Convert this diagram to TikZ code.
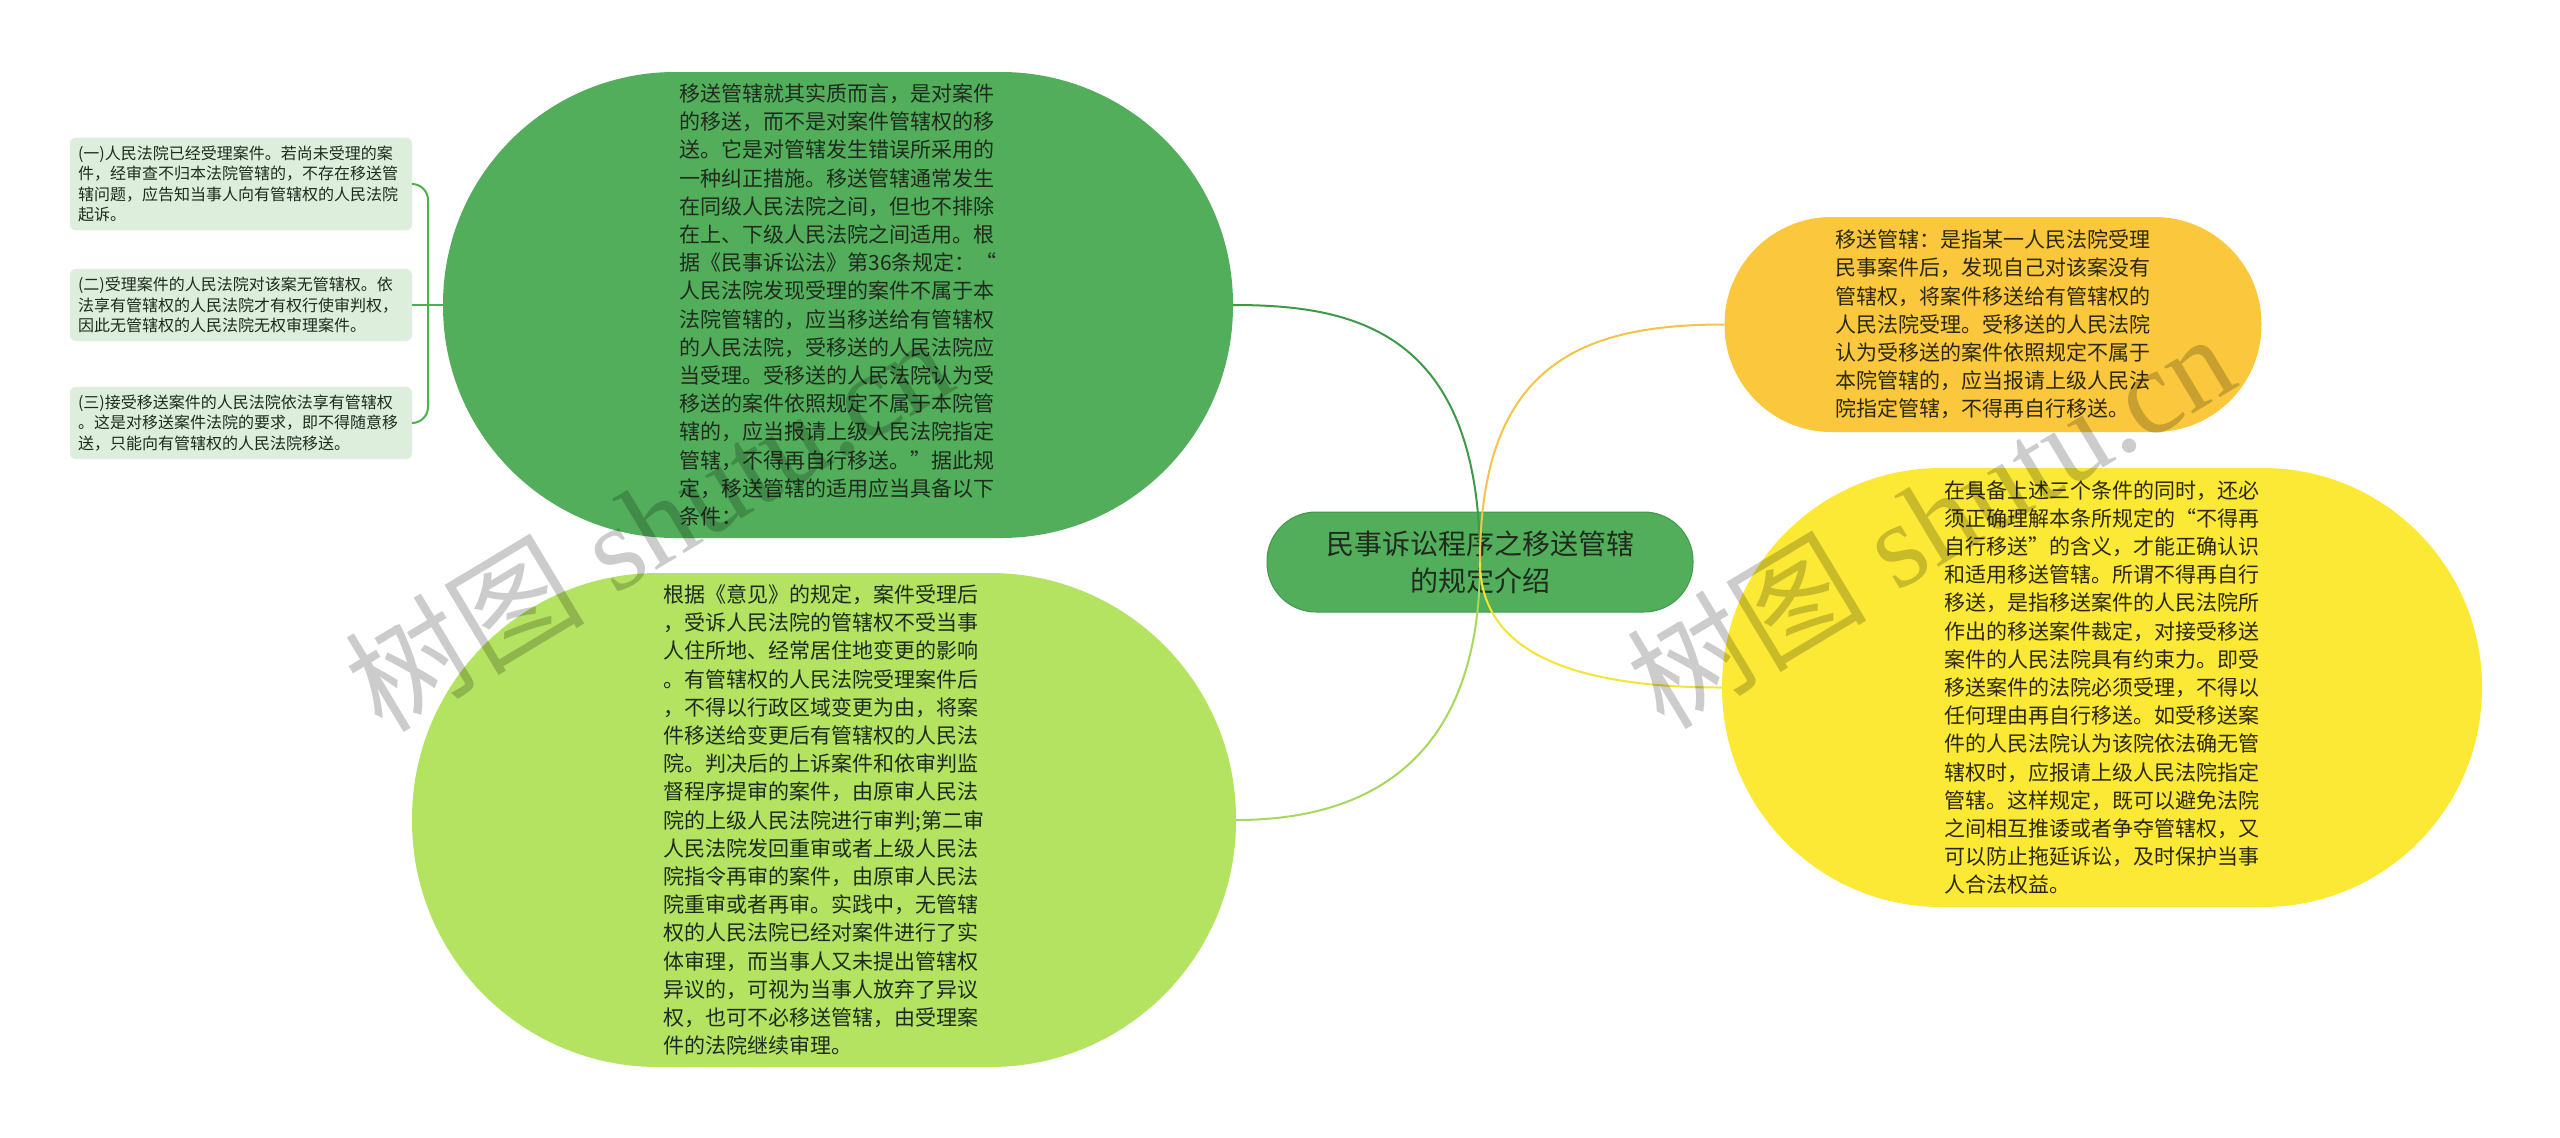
\documentclass[tikz,border=0pt]{standalone}
\usepackage{fontspec}
\setmainfont{Liberation Serif}
\newfontfamily\cjk{Noto Sans CJK SC}
\definecolor{dgfill}{HTML}{52AE5B}
\definecolor{dgline}{HTML}{3F9A48}
\definecolor{lgfill}{HTML}{B3E360}
\definecolor{orfill}{HTML}{FBC83D}
\definecolor{yefill}{HTML}{FCE935}
\definecolor{smfill}{HTML}{DDEEDC}
\definecolor{txtdark}{HTML}{1E2B1E}
\definecolor{txtwarm}{HTML}{2B2810}
\definecolor{cdg}{HTML}{3F9A48}
\definecolor{clg}{HTML}{A8D85B}
\definecolor{cor}{HTML}{F4C347}
\definecolor{cye}{HTML}{F6E435}
\definecolor{brk}{HTML}{4CAF50}
\begin{document}
\begin{tikzpicture}[x=1pt,y=-1pt,
  bigtext/.style={font=\cjk\fontsize{21pt}{28.2pt}\selectfont, align=left, text=txtdark, inner sep=0pt},
  smalltext/.style={font=\cjk\fontsize{16pt}{20.6pt}\selectfont, align=left, text=txtdark, inner sep=8pt, text width=326pt, fill=smfill, rounded corners=6pt},
  rootbox/.style={font=\cjk\fontsize{28pt}{37pt}\selectfont, align=center, text=txtdark, fill=dgfill, draw=dgline, line width=1pt, minimum width=426pt, minimum height=100pt, rounded corners=49pt},
  conn/.style={line width=2pt},
  wmark/.style={font=\fontsize{120pt}{130pt}\selectfont, text=black, opacity=0.2, rotate=31}
]
\fill[white] (0,0) rectangle (2560,1138);
\useasboundingbox (0,0) rectangle (2560,1138);

% main branches
\node[bigtext, fill=dgfill, minimum width=790pt, minimum height=466pt, rounded corners=232pt] (dg) at (838,305) {移送管辖就其实质而言，是对案件\\的移送，而不是对案件管辖权的移\\送。它是对管辖发生错误所采用的\\一种纠正措施。移送管辖通常发生\\在同级人民法院之间，但也不排除\\在上、下级人民法院之间适用。根\\据《民事诉讼法》第36条规定：“\\人民法院发现受理的案件不属于本\\法院管辖的，应当移送给有管辖权\\的人民法院，受移送的人民法院应\\当受理。受移送的人民法院认为受\\移送的案件依照规定不属于本院管\\辖的，应当报请上级人民法院指定\\管辖，不得再自行移送。”据此规\\定，移送管辖的适用应当具备以下\\条件：};

\node[bigtext, fill=lgfill, minimum width=824pt, minimum height=494pt, rounded corners=246pt] (lg) at (824,820) {根据《意见》的规定，案件受理后\\，受诉人民法院的管辖权不受当事\\人住所地、经常居住地变更的影响\\。有管辖权的人民法院受理案件后\\，不得以行政区域变更为由，将案\\件移送给变更后有管辖权的人民法\\院。判决后的上诉案件和依审判监\\督程序提审的案件，由原审人民法\\院的上级人民法院进行审判;第二审\\人民法院发回重审或者上级人民法\\院指令再审的案件，由原审人民法\\院重审或者再审。实践中，无管辖\\权的人民法院已经对案件进行了实\\体审理，而当事人又未提出管辖权\\异议的，可视为当事人放弃了异议\\权，也可不必移送管辖，由受理案\\件的法院继续审理。};

\node[bigtext, text=txtwarm, fill=orfill, minimum width=537pt, minimum height=215pt, rounded corners=107pt] (or) at (1993,324.5) {移送管辖：是指某一人民法院受理\\民事案件后，发现自己对该案没有\\管辖权，将案件移送给有管辖权的\\人民法院受理。受移送的人民法院\\认为受移送的案件依照规定不属于\\本院管辖的，应当报请上级人民法\\院指定管辖，不得再自行移送。};

\node[bigtext, text=txtwarm, fill=yefill, minimum width=760pt, minimum height=439pt, rounded corners=219pt] (ye) at (2102,687.5) {在具备上述三个条件的同时，还必\\须正确理解本条所规定的“不得再\\自行移送”的含义，才能正确认识\\和适用移送管辖。所谓不得再自行\\移送，是指移送案件的人民法院所\\作出的移送案件裁定，对接受移送\\案件的人民法院具有约束力。即受\\移送案件的法院必须受理，不得以\\任何理由再自行移送。如受移送案\\件的人民法院认为该院依法确无管\\辖权时，应报请上级人民法院指定\\管辖。这样规定，既可以避免法院\\之间相互推诿或者争夺管辖权，又\\可以防止拖延诉讼，及时保护当事\\人合法权益。};

% root
\node[rootbox] (c) at (1480,562) {民事诉讼程序之移送管辖\\的规定介绍};

% small boxes
\node[smalltext] (b1) at (241,184) {(一)人民法院已经受理案件。若尚未受理的案\\件，经审查不归本法院管辖的，不存在移送管\\辖问题，应告知当事人向有管辖权的人民法院\\起诉。};
\node[smalltext] (b2) at (241,305) {(二)受理案件的人民法院对该案无管辖权。依\\法享有管辖权的人民法院才有权行使审判权，\\因此无管辖权的人民法院无权审理案件。};
\node[smalltext] (b3) at (241,423) {(三)接受移送案件的人民法院依法享有管辖权\\。这是对移送案件法院的要求，即不得随意移\\送，只能向有管辖权的人民法院移送。};

% bracket
\coordinate (bj) at (428,305);
\draw[brk, line width=2pt, rounded corners=16pt] (b1.east) -| (bj) |- (b3.east);
\draw[brk, line width=2pt] (b2.east) -- (dg.west);

% connectors from root
\draw[conn, cdg] (c.center) .. controls +(0,-232) and +(120,0) .. (dg.east);
\draw[conn, clg] (c.center) .. controls +(0,200) and +(130,0) .. (lg.east);
\draw[conn, cor] (c.center) .. controls +(0,-200) and +(-140,0) .. (or.west);
\draw[conn, cye] (c.center) .. controls +(0,90) and +(-150,0) .. (ye.west);

% watermarks
\node[wmark] (w1) at (648,522) {{\cjk 树图} shutu.cn};
\node[wmark] (w2) at (1930,519) {{\cjk 树图} shutu.cn};
\end{tikzpicture}
\end{document}
